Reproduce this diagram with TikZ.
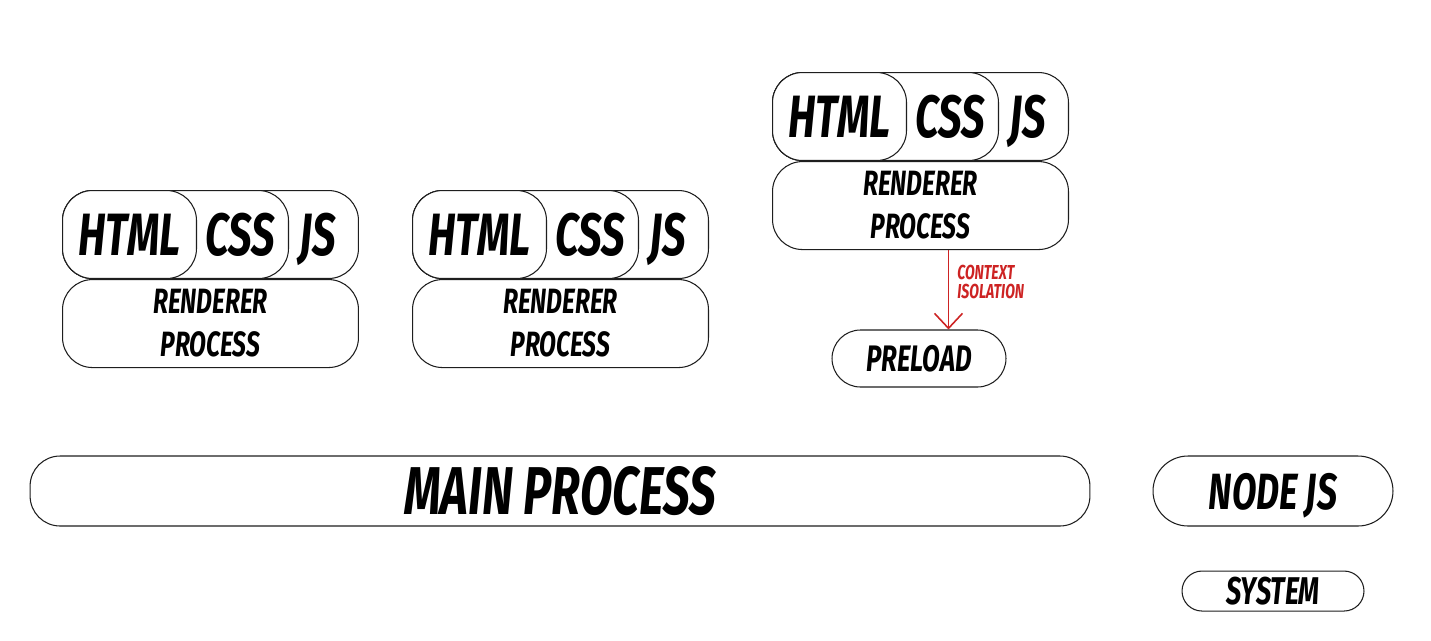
\documentclass[tikz,border=0pt]{standalone}
\usepackage{fontspec}
\usepackage{tikz}
\usetikzlibrary{positioning,arrows.meta,calc}
\newfontfamily\diagfont{Fira Sans}[FakeStretch=0.7]
\definecolor{linegray}{RGB}{30,30,30}
\definecolor{isored}{RGB}{205,35,35}
\tikzset{
  pill/.style={
    draw=linegray,
    fill=white,
    line width=0.6pt,
    rounded corners=0.6cm,
    inner sep=0pt,
    minimum height=1.76cm
  },
  tag/.style={font=\diagfont\bfseries\itshape\fontsize{34}{36}\selectfont, text=black, inner sep=0pt, text depth=0pt},
  proc/.style={font=\diagfont\bfseries\itshape\fontsize{20}{24.5}\selectfont, align=center},
  isoarrow/.style={-{Straight Barb[length=0.3cm, width=0.56cm]}, line width=0.9pt, draw=isored},
  note/.style={font=\diagfont\bfseries\itshape\fontsize{11.5}{11}\selectfont, text=isored, align=left, inner sep=0pt}
}
\begin{document}
\begin{tikzpicture}[x=0.02cm, y=-0.02cm]
\useasboundingbox (0,0) rectangle (1431,640);

% Renderer stacks
\foreach \g/\gx/\gy in {1/62/190, 2/412/190, 3/772/72} {
  \node[pill, minimum width=5.92cm, anchor=north west] (js\g) at (\gx,\gy) {};
  \node[pill, minimum width=4.52cm, anchor=north west] (css\g) at (\gx,\gy) {};
  \node[pill, minimum width=2.68cm, anchor=north west] (html\g) at (\gx,\gy) {};
  \node[tag] (htmlt\g) at (html\g.center) {HTML};
  \node[tag] (csst\g) at ($(html\g.east)!0.5!(css\g.east)+(-3,0)$) {CSS};
  \node[tag] (jst\g) at ($(css\g.east)!0.5!(js\g.east)+(-6,0)$) {JS};
  \node[pill, proc, minimum width=5.92cm, below=0pt of js\g] (rend\g) {RENDERER\\PROCESS};
}

% Preload
\node[pill, minimum width=3.48cm, minimum height=1.14cm, rounded corners=0.57cm,
  font=\diagfont\bfseries\itshape\fontsize{21}{24}\selectfont]
  (preload) at (919,358.5) {PRELOAD};

\coordinate (isotop) at ([xshift=0.56cm]rend3.south);
\draw[isoarrow] (isotop) -- (isotop |- preload.north);
\node[note, anchor=west] (isonote) at (957,282) {CONTEXT\\ISOLATION};

% Bottom row
\node[pill, minimum width=21.2cm, minimum height=1.4cm,
  font=\diagfont\bfseries\itshape\fontsize{38.5}{40}\selectfont]
  (main) at (560,491) {MAIN PROCESS};
\node[pill, minimum width=4.8cm, minimum height=1.4cm, rounded corners=0.7cm, text depth=0pt,
  font=\diagfont\bfseries\itshape\fontsize{29}{32}\selectfont]
  (nodejs) at (1273,491) {NODE JS};
\node[pill, minimum width=3.64cm, minimum height=0.8cm, rounded corners=0.4cm,
  font=\diagfont\bfseries\itshape\fontsize{22}{24}\selectfont,
  below=0.88cm of nodejs] (system) {SYSTEM};

\end{tikzpicture}
\end{document}
